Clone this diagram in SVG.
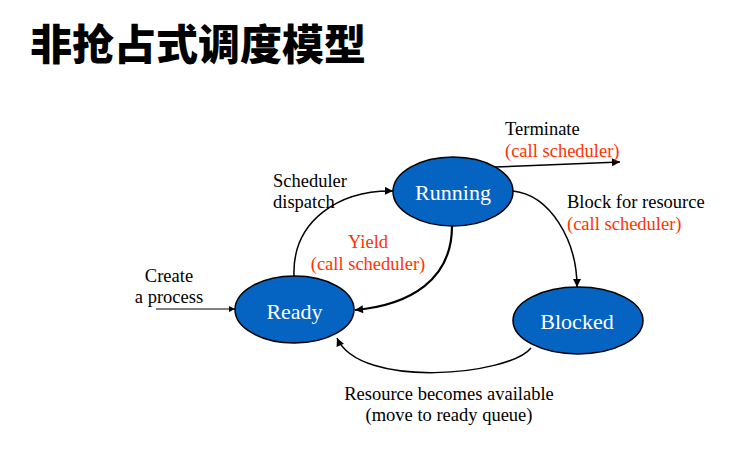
<svg xmlns="http://www.w3.org/2000/svg" width="733" height="454" viewBox="0 0 733 454">
  <style>
    .node { fill: #0563C1; stroke: #000; stroke-width: 1.5; }
    .ntext { font-family: "Liberation Serif", "Times New Roman", serif; font-size: 22px; fill: #fff; text-anchor: middle; }
    .lbl { font-family: "Liberation Serif", "Times New Roman", serif; font-size: 18.5px; fill: #000; }
    .red { fill: #FF3300; }
    .mid { text-anchor: middle; }
    .edge { fill: none; stroke: #000; stroke-width: 1.5; }
    .title { font-family: "Noto Sans CJK SC", "Noto Sans", sans-serif; font-size: 42px; font-weight: 900; fill: #000; }
  </style>
  <defs>
    <marker id="arrow" viewBox="0 0 10 10" refX="10" refY="5" markerWidth="9" markerHeight="8" markerUnits="userSpaceOnUse" orient="auto">
      <path d="M0,0 L10,5 L0,10 z" fill="#000"/>
    </marker>
    <marker id="arrowS" viewBox="0 0 10 10" refX="10" refY="5" markerWidth="7" markerHeight="6" markerUnits="userSpaceOnUse" orient="auto">
      <path d="M0,0 L10,5 L0,10 z" fill="#000"/>
    </marker>
  </defs>
  <rect width="733" height="454" fill="#fff"/>
  <text class="title" x="30" y="60">非抢占式调度模型</text>

  <g id="connectors">
    <path class="edge" d="M495 167 L620 162" marker-end="url(#arrow)"/>
    <path class="edge" d="M294 276 C292 220 340 190 393 191" marker-end="url(#arrow)"/>
    <path class="edge" style="stroke-width:2.2" d="M452 226 C452 280 410 305 355 310" marker-end="url(#arrow)"/>
    <path class="edge" d="M513 191 C550 195 577 240 577 287" marker-end="url(#arrow)"/>
    <path class="edge" d="M531 348 C510 375 360 390 337 338" marker-end="url(#arrow)"/>
    <path class="edge" style="stroke-width:1" d="M156 309 L235 309" marker-end="url(#arrowS)"/>
  </g>

  <g id="node-running">
    <ellipse class="node" cx="453" cy="191.5" rx="60" ry="34.5"/>
    <text class="ntext" x="453" y="200">Running</text>
  </g>
  <g id="node-ready">
    <ellipse class="node" cx="294.5" cy="309.5" rx="59.5" ry="33.5"/>
    <text class="ntext" x="294.5" y="319">Ready</text>
  </g>
  <g id="node-blocked">
    <ellipse class="node" cx="578" cy="320.5" rx="65" ry="33.5"/>
    <text class="ntext" x="577" y="329">Blocked</text>
  </g>

  <g id="labels">
    <text class="lbl" x="505" y="135">Terminate</text>
    <text class="lbl red" x="505" y="157">(call scheduler)</text>
    <text class="lbl" x="273" y="187">Scheduler</text>
    <text class="lbl" x="273" y="208">dispatch</text>
    <text class="lbl" x="567" y="208">Block for resource</text>
    <text class="lbl red" x="567" y="230">(call scheduler)</text>
    <text class="lbl red mid" x="368" y="248">Yield</text>
    <text class="lbl red mid" x="368" y="270">(call scheduler)</text>
    <text class="lbl mid" x="169" y="282">Create</text>
    <text class="lbl mid" x="169" y="303">a process</text>
    <text class="lbl mid" x="449" y="400">Resource becomes available</text>
    <text class="lbl mid" x="449" y="421">(move to ready queue)</text>
  </g>
</svg>
